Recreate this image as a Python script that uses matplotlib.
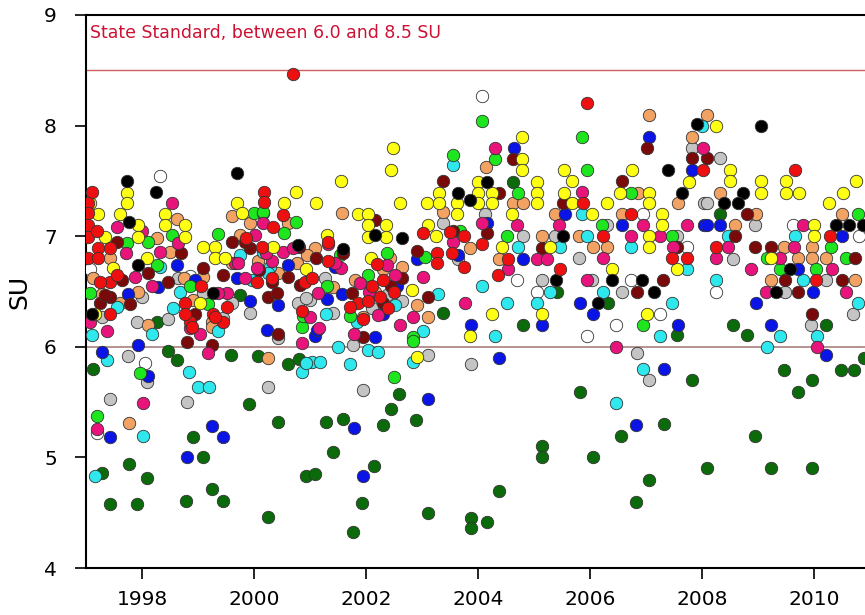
import matplotlib
matplotlib.use("Agg")
import matplotlib.pyplot as plt

# pH readings (SU) by sampling site as (year, SU)
red = [(1997.11, 7.40), (1997.04, 7.30), (1997.04, 7.21), (1997.04, 7.10), (1997.04, 6.99),
       (1997.04, 6.80), (1997.21, 6.89), (1997.43, 6.89), (1997.21, 6.80), (1997.43, 6.59),
       (1997.25, 6.59), (1997.43, 6.30), (1998.77, 6.40), (1998.86, 6.22), (1999.27, 6.30),
       (1999.45, 6.22), (2000.18, 7.40), (2000.18, 7.31), (2000.52, 7.19), (2000.34, 7.08),
       (1999.86, 6.98), (2000.32, 6.62), (2000.91, 6.59), (2001.04, 6.62), (2001.86, 6.40),
       (2002.04, 6.41), (2000.86, 6.32), (2001.32, 6.95), (2002.10, 6.55), (2002.25, 6.45),
       (2002.40, 6.35), (2002.30, 6.60), (2002.50, 6.50), (2001.95, 6.25), (2003.02, 7.03),
       (2003.27, 6.85), (2003.27, 6.76), (2003.75, 6.72), (2003.54, 6.85), (2004.07, 6.93),
       (2004.54, 6.79), (2003.50, 7.04), (2005.95, 8.20), (2005.88, 7.30), (2006.73, 7.20),
       (2006.23, 7.00), (2005.46, 6.70), (2007.46, 6.80), (2007.73, 6.80), (2009.66, 7.60),
       (2008.02, 7.60), (2008.25, 6.90), (2010.29, 7.00), (2010.04, 6.60), (2000.70, 8.47),
       (1998.77, 6.30), (1999.52, 6.36), (1999.30, 6.27), (1998.89, 6.18), (2000.14, 6.90),
       (2000.05, 6.59), (2001.32, 6.78), (2001.71, 6.36), (1997.20, 7.05), (1997.55, 6.65),
       (1999.05, 6.55), (2002.20, 6.75), (2003.75, 7.00), (2004.35, 6.65)]

yellow = [(1997.07, 7.30), (1997.73, 7.39), (1997.73, 7.30), (1997.61, 7.20), (1997.21, 7.20),
          (1997.34, 6.99), (1997.93, 7.10), (1997.93, 6.99), (1998.41, 7.20), (1998.41, 7.10),
          (1998.77, 7.10), (1998.77, 6.99), (1999.09, 6.90), (1999.30, 6.90), (1999.30, 6.80),
          (1999.48, 6.80), (1999.70, 7.30), (1998.09, 6.80), (1997.48, 6.71), (1997.16, 6.30),
          (1999.04, 6.40), (1999.79, 7.21), (2000.54, 7.30), (2000.75, 7.40), (2001.11, 7.30),
          (2001.55, 7.50), (2001.86, 7.20), (2002.04, 7.20), (2002.04, 7.10), (2002.04, 6.99),
          (2002.36, 7.10), (2002.36, 6.99), (2002.45, 7.60), (2000.34, 6.90), (2000.93, 6.70),
          (2001.30, 7.01), (2002.09, 6.80), (2002.48, 7.80), (2002.61, 7.30),
          (2003.09, 7.30), (2003.30, 7.39), (2003.30, 7.30), (2003.63, 7.30), (2003.63, 7.20),
          (2004.00, 7.49), (2004.00, 7.39), (2004.00, 7.30), (2004.25, 7.39), (2004.25, 7.30),
          (2004.79, 7.90), (2004.79, 7.70), (2004.79, 7.60), (2005.05, 7.49), (2005.05, 7.39),
          (2005.05, 7.30), (2004.61, 7.20), (2004.43, 6.90), (2003.11, 7.10), (2003.25, 7.00),
          (2002.82, 6.51), (2004.25, 6.30), (2003.86, 6.10), (2005.14, 6.30), (2005.54, 7.60),
          (2005.68, 7.50), (2005.54, 7.39), (2005.68, 7.30), (2006.75, 7.60), (2006.54, 7.39),
          (2007.05, 7.39), (2007.05, 7.30), (2006.30, 7.30), (2006.04, 7.20), (2007.29, 7.20),
          (2007.29, 7.10), (2007.05, 7.00), (2007.05, 6.90), (2006.39, 6.70), (2007.55, 6.70),
          (2007.77, 7.49), (2007.02, 6.30), (2005.29, 6.90), (2008.25, 8.00), (2008.50, 7.60),
          (2008.50, 7.50), (2009.05, 7.50), (2009.05, 7.39), (2009.50, 7.50), (2009.50, 7.39),
          (2009.73, 7.39), (2010.00, 7.10), (2010.00, 7.00), (2010.27, 7.30), (2010.52, 7.39),
          (2010.75, 7.50), (2009.23, 6.80), (2002.91, 5.91)]

black = [(1997.73, 7.50), (1998.25, 7.40), (1999.70, 7.57), (1997.93, 6.74), (1997.77, 7.13),
         (1999.27, 6.49), (1997.11, 6.30), (2000.79, 6.92), (2001.59, 6.88), (2002.16, 7.01),
         (2003.64, 7.39), (2003.86, 7.33), (2004.16, 7.49), (2002.64, 6.98), (2007.39, 7.60),
         (2007.64, 7.39), (2007.91, 8.01), (2006.39, 6.60), (2006.93, 6.60), (2005.39, 6.60),
         (2007.14, 6.50), (2006.14, 6.40), (2005.52, 7.00), (2009.05, 8.00), (2008.73, 7.39),
         (2008.39, 7.30), (2008.64, 7.30), (2010.39, 7.10), (2010.63, 7.10), (2010.88, 7.10),
         (2009.57, 6.70), (2009.32, 6.50)]

white = [(1998.32, 7.54), (1998.86, 6.64), (1997.07, 6.70), (1998.05, 5.85), (2004.07, 8.27),
         (2004.70, 6.60), (2005.05, 6.50), (2005.95, 6.10), (2006.46, 6.20), (2007.25, 6.30),
         (2006.73, 6.60), (2007.73, 6.90), (2006.95, 7.20), (2008.25, 6.50), (2009.63, 7.10),
         (2010.80, 7.00), (1997.20, 5.22)]

maroon = [(1999.09, 6.71), (1999.45, 6.65), (1998.11, 6.67), (1997.64, 6.60), (1997.79, 6.39),
          (1998.46, 6.59), (1998.80, 6.04), (1999.25, 6.02), (1997.25, 6.40), (1997.43, 6.45),
          (1998.95, 6.30), (1999.61, 6.95), (2002.16, 7.15), (1999.93, 6.89), (2000.09, 6.69),
          (2000.61, 6.63), (2000.82, 6.56), (2001.11, 6.80), (2000.25, 6.45), (2000.43, 6.12),
          (2001.95, 6.09), (2001.75, 6.49), (2003.38, 7.50), (2004.63, 7.70), (2004.38, 7.39),
          (2004.16, 7.03), (2002.91, 6.87), (2003.11, 6.45), (2002.64, 6.62), (2005.14, 6.89),
          (2003.55, 7.05), (2007.02, 7.80), (2006.57, 7.50), (2005.52, 7.30), (2007.82, 7.71),
          (2006.84, 6.50), (2007.30, 6.60), (2007.55, 6.90), (2008.09, 7.71), (2008.80, 7.20),
          (2008.59, 7.00), (2008.95, 6.90), (2009.23, 6.90), (2009.48, 6.60), (2009.71, 6.50),
          (2010.50, 6.60), (2009.96, 6.30), (2010.73, 6.80), (1997.34, 6.47), (1999.84, 6.95),
          (2000.32, 6.59), (2000.41, 6.49), (2000.80, 6.90), (2001.59, 6.85), (1998.70, 6.85),
          (2002.30, 6.40), (2002.45, 6.55), (1997.55, 6.95)]

lime = [(1999.36, 7.02), (1997.73, 6.94), (1997.07, 6.49), (1998.86, 6.55), (1999.18, 6.39),
        (1998.54, 7.01), (1998.27, 6.74), (2000.00, 7.21), (2000.16, 7.21), (2000.54, 7.03),
        (2000.75, 7.13), (2001.54, 6.83), (2002.04, 6.65), (2001.71, 6.28), (2000.86, 6.18),
        (2002.38, 6.85), (2004.07, 8.04), (2003.55, 7.73), (2004.30, 7.70), (2004.71, 7.39),
        (2004.52, 7.00), (2003.05, 6.81), (2002.84, 6.09), (2003.68, 7.05), (2005.86, 7.90),
        (2005.95, 7.60), (2006.73, 7.39), (2006.21, 7.10), (2007.46, 7.00), (2006.95, 6.20),
        (2009.16, 6.80), (2009.39, 6.70), (2010.04, 6.70), (2010.30, 6.90), (2010.57, 6.80),
        (2010.79, 7.20), (1997.96, 5.76), (1997.20, 5.37), (2002.50, 5.73), (2002.84, 6.05),
        (2000.16, 7.22), (2000.88, 6.28), (1998.10, 6.95), (2001.30, 6.55)]

pink = [(1998.54, 7.30), (1997.55, 7.08), (1997.71, 6.85), (1998.64, 6.94), (1998.32, 6.86),
        (1997.88, 6.63), (1998.18, 6.55), (1999.52, 6.49), (1997.07, 6.22), (1997.38, 6.14),
        (1999.18, 5.94), (1998.86, 6.17), (1999.66, 6.76), (2000.02, 7.01), (2000.16, 7.12),
        (2000.52, 6.86), (2000.70, 6.89), (1999.71, 6.76), (2000.32, 6.78), (1999.84, 6.62),
        (2001.32, 6.93), (2001.55, 6.71), (2001.89, 6.58), (2002.21, 6.29), (2001.00, 6.27),
        (2001.16, 6.17), (2000.86, 6.03), (2002.38, 6.74), (2004.30, 7.80), (2004.07, 7.12),
        (2003.55, 6.95), (2004.70, 7.10), (2005.05, 6.79), (2004.54, 6.70), (2003.02, 6.63),
        (2003.77, 6.40), (2002.84, 6.27), (2002.52, 6.65), (2005.23, 6.79), (2005.86, 7.40),
        (2005.45, 7.10), (2006.95, 7.10), (2006.73, 7.00), (2007.73, 7.10), (2005.95, 6.60),
        (2006.23, 6.80), (2007.25, 7.00), (2007.48, 6.90), (2006.46, 6.00), (2008.02, 7.80),
        (2008.25, 6.80), (2008.46, 6.90), (2008.88, 6.70), (2009.39, 6.80), (2009.64, 6.90),
        (2010.32, 6.70), (2009.14, 6.50), (2010.57, 6.50), (2009.80, 7.10), (2010.05, 6.00),
        (1998.02, 5.49), (1997.20, 5.26), (1999.36, 6.49), (1999.04, 6.12), (2000.05, 6.71),
        (2000.21, 6.85), (2001.45, 6.76), (2001.14, 6.49), (2001.79, 6.12), (1998.00, 7.05),
        (2002.05, 6.50), (2002.60, 6.20)]

tan = [(1998.62, 7.16), (1998.27, 6.98), (1998.50, 6.86), (1997.43, 6.80), (1997.13, 6.62),
       (1997.29, 6.48), (1997.93, 6.50), (1999.09, 6.63), (1998.11, 6.20), (1998.91, 6.42),
       (1999.25, 6.22), (1999.61, 7.18), (1999.93, 7.12), (1999.75, 7.01), (2000.61, 7.12),
       (2001.57, 7.21), (2000.07, 6.78), (2000.77, 6.76), (2001.09, 6.89), (2000.95, 6.83),
       (2000.43, 6.67), (2001.41, 6.54), (2002.16, 6.50), (2001.95, 6.27), (2002.43, 6.80),
       (2000.25, 5.90), (2004.14, 7.63), (2004.63, 7.30), (2004.80, 7.30), (2003.38, 7.22),
       (2003.86, 6.89), (2004.38, 6.79), (2005.14, 7.00), (2003.11, 6.27), (2002.91, 6.38),
       (2002.64, 6.72), (2007.05, 8.10), (2007.82, 7.90), (2006.86, 7.39), (2005.38, 7.20),
       (2006.57, 7.20), (2005.80, 7.00), (2006.05, 6.90), (2006.30, 6.90), (2007.57, 7.30),
       (2008.09, 8.10), (2008.32, 7.39), (2008.96, 7.20), (2008.59, 7.10), (2009.46, 6.90),
       (2009.71, 6.80), (2009.96, 6.90), (2009.96, 6.80), (2010.21, 6.80), (2010.50, 7.20),
       (2010.73, 6.60), (2009.23, 6.60), (1997.77, 5.31), (1999.25, 6.18), (1999.61, 6.76),
       (1998.75, 6.62), (2002.30, 6.70), (1997.60, 6.40), (2001.80, 6.60)]

cyan = [(1998.32, 6.72), (1997.55, 6.36), (1997.11, 6.11), (1998.18, 6.12), (1998.68, 6.50),
        (1999.36, 6.14), (1997.38, 5.88), (2000.16, 6.86), (1999.96, 6.60), (2000.29, 6.72),
        (2001.84, 6.22), (2001.50, 6.00), (2002.04, 5.97), (2002.21, 5.95), (2001.04, 5.86),
        (2001.18, 5.86), (2001.71, 5.84), (2003.55, 7.64), (2004.71, 6.90), (2004.07, 6.55),
        (2003.29, 6.48), (2004.52, 6.40), (2005.05, 6.40), (2003.02, 6.14), (2004.30, 6.10),
        (2002.52, 6.38), (2005.86, 7.20), (2005.95, 7.00), (2005.46, 6.90), (2006.73, 6.90),
        (2006.23, 6.50), (2007.46, 6.40), (2007.25, 6.10), (2007.73, 6.70), (2008.00, 8.00),
        (2005.29, 6.50), (2009.66, 7.00), (2008.25, 6.60), (2009.80, 6.60), (2010.79, 6.40),
        (2009.39, 6.10), (2009.16, 6.00), (2010.05, 6.10), (2008.46, 7.00), (2006.95, 5.80),
        (2006.46, 5.49), (1997.16, 4.83), (1998.02, 5.19), (1998.84, 5.77), (1999.00, 5.64),
        (1999.20, 5.64), (2000.86, 5.77), (2000.93, 5.85), (2002.84, 5.86), (1999.75, 6.83),
        (2000.25, 6.67), (2001.29, 6.30), (1998.55, 6.35)]

blue = [(1998.62, 6.74), (1997.75, 6.48), (1997.93, 6.02), (1997.29, 5.95), (1998.29, 6.54),
        (1999.70, 6.62), (2000.61, 6.74), (1999.93, 6.41), (2000.43, 6.38), (2000.23, 6.15),
        (2001.30, 6.43), (2001.57, 6.48), (2001.09, 6.10), (2002.16, 6.09), (2002.30, 6.30),
        (2001.45, 6.72), (2004.64, 7.80), (2004.80, 6.79), (2002.91, 6.79), (2003.64, 6.83),
        (2003.88, 6.20), (2005.14, 6.20), (2004.16, 7.12), (2007.05, 7.90), (2005.55, 7.20),
        (2006.57, 7.10), (2007.82, 7.60), (2005.82, 6.40), (2006.05, 6.30), (2007.57, 6.20),
        (2008.04, 7.10), (2008.09, 7.10), (2008.32, 7.10), (2008.96, 6.40), (2009.23, 6.20),
        (2009.71, 6.70), (2009.98, 6.50), (2010.50, 7.00), (2010.21, 5.93), (2007.32, 5.80),
        (2004.38, 5.90), (2006.82, 5.29), (1998.11, 5.74), (1997.43, 5.18), (1999.25, 5.28),
        (1999.45, 5.18), (1998.80, 5.00), (2001.79, 5.27), (2001.95, 4.83), (2003.11, 5.53),
        (2001.13, 6.15), (1998.95, 6.60), (2002.55, 6.55)]

silver = [(1997.91, 6.22), (1998.46, 6.25), (1999.09, 6.49), (1997.29, 6.27), (1997.75, 5.92),
          (1998.64, 6.62), (1999.45, 6.26), (1999.93, 6.31), (2000.79, 6.40), (2001.00, 6.42),
          (2001.41, 6.31), (2001.27, 6.62), (2001.77, 6.02), (2002.38, 6.47), (2000.43, 6.08),
          (2003.38, 7.12), (2004.80, 7.00), (2005.14, 6.60), (2003.64, 6.79), (2002.64, 6.41),
          (2004.13, 7.20), (2005.80, 6.80), (2006.30, 7.10), (2006.57, 6.50), (2007.55, 7.00),
          (2006.04, 6.60), (2005.38, 7.00), (2007.82, 7.80), (2008.04, 7.30), (2006.84, 5.94),
          (2008.32, 7.71), (2008.09, 7.30), (2008.95, 7.10), (2008.55, 6.79), (2009.48, 6.50),
          (2010.21, 6.60), (2010.70, 6.30), (2009.95, 6.20), (2007.05, 5.70), (2003.88, 5.84),
          (1998.09, 5.68), (1997.43, 5.53), (1998.80, 5.50), (2000.25, 5.64), (2001.95, 5.61),
          (2003.11, 5.93), (2000.93, 6.44), (1998.00, 6.45), (2002.10, 6.35), (1999.60, 6.40)]

darkgreen = [(1997.13, 5.80), (1997.29, 4.86), (1997.43, 4.58), (1997.77, 4.94), (1997.91, 4.58),
             (1998.09, 4.81), (1998.46, 5.96), (1998.62, 5.88), (1998.91, 5.18), (1999.09, 5.00),
             (1998.79, 4.61), (1999.25, 4.71), (1999.45, 4.61), (1999.59, 5.93), (1999.91, 5.48),
             (2000.07, 5.92), (2000.25, 4.46), (2000.43, 5.32), (2000.61, 5.84), (2000.80, 5.89),
             (2000.93, 4.83), (2001.09, 4.85), (2001.29, 5.32), (2001.41, 5.05), (2001.59, 5.35),
             (2001.77, 4.33), (2001.93, 4.59), (2002.14, 4.92), (2002.30, 5.29), (2002.45, 5.44),
             (2002.59, 5.57), (2002.89, 5.34), (2003.11, 4.50), (2003.88, 4.45), (2003.88, 4.36),
             (2004.16, 4.42), (2004.38, 4.70), (2005.14, 5.10), (2005.14, 5.00), (2005.82, 5.59),
             (2006.05, 5.00), (2006.55, 5.19), (2006.82, 4.60), (2007.05, 4.80), (2007.32, 5.30),
             (2007.82, 5.70), (2008.09, 4.90), (2008.95, 5.19), (2009.23, 4.90), (2009.46, 5.79),
             (2009.71, 5.59), (2009.96, 5.70), (2009.96, 4.90), (2010.48, 5.79), (2010.71, 5.79),
             (2010.89, 5.90), (2008.55, 6.20), (2008.80, 6.11), (2007.55, 6.11), (2006.32, 6.40),
             (2008.32, 7.20), (2010.21, 6.20), (2003.38, 6.31), (2004.80, 6.20), (2004.63, 7.49),
             (1999.75, 6.47), (1998.27, 6.22), (2005.41, 6.50)]

series = [
    (darkgreen, "#0b6b0b"),
    (silver, "#c4c4c4"),
    (white, "#ffffff"),
    (tan, "#f2a263"),
    (cyan, "#2ee8ee"),
    (blue, "#0a14e6"),
    (lime, "#1ee61e"),
    (maroon, "#7a0a0a"),
    (pink, "#e8147c"),
    (yellow, "#ffff14"),
    (black, "#000000"),
    (red, "#ee1010"),
]

fig = plt.figure(figsize=(8.65, 6.15), dpi=100)
ax = fig.add_axes([86 / 865, 47 / 615, 784 / 865, 553 / 615])

ax.axhline(8.5, color="#d06060", lw=1.0, zorder=1)
ax.axhline(6.0, color="#b08a8a", lw=1.3, zorder=1)

for pts, col in series:
    xs = [p[0] for p in pts]
    ys = [p[1] for p in pts]
    ax.scatter(xs, ys, s=80, c=col, edgecolors="#333333", linewidths=0.6, zorder=3)

ax.text(1997.08, 8.84, "State Standard, between 6.0 and 8.5 SU", color="#cc1133",
        fontsize=12.5, va="center", ha="left")

ax.set_xlim(1997.0, 2011.0)
ax.set_ylim(4, 9)
ax.set_xticks(range(1998, 2011, 2))
ax.set_yticks(range(4, 10))
ax.tick_params(direction="out", length=8, width=1.2, labelsize=14.5)
ax.tick_params(axis="y", pad=13)
ax.tick_params(axis="x", pad=8)
ax.set_ylabel("SU", fontsize=18, labelpad=9)

for side in ["left", "top", "bottom", "right"]:
    ax.spines[side].set_linewidth(1.5)

fig.savefig("out.png", dpi=100)
